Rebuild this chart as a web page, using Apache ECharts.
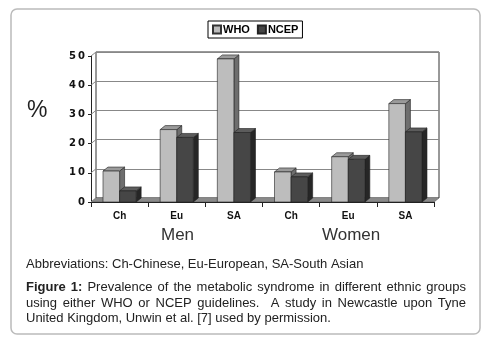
<!DOCTYPE html>
<html>
<head>
<meta charset="utf-8">
<script src="https://cdn.jsdelivr.net/npm/echarts@6/dist/echarts.min.js"></script>
<style>
html,body{margin:0;padding:0;background:#fff;}
#chart{width:488px;height:337px;}
</style>
</head>
<body>
<div id="chart"></div>
<script>
// categories / data
var categories = ['Ch', 'Eu', 'SA', 'Ch', 'Eu', 'SA'];
var groups = ['Men', 'Women'];
var whoValues = [10.6, 24.8, 49, 10.3, 15.5, 33.7];
var ncepValues = [3.8, 22.1, 23.8, 8.6, 14.6, 24];
var yTicks = [0, 10, 20, 30, 40, 50];

var chart = echarts.init(document.getElementById('chart'));

// depth of the 3d effect
var DX = 5, DY = -4;

function toData(arr) {
    return arr.map(function (v, i) { return [i, v]; });
}

function bar3d(side, faces) {
    return function (params, api) {
        var idx = api.value(0), val = api.value(1);
        var top = api.coord([idx, val]);
        var base = api.coord([idx, 0]);
        var bw = api.size([1, 0])[0] * 0.29;
        var x0 = side < 0 ? top[0] - bw : top[0];
        var x1 = x0 + bw;
        var y0 = top[1], yb = base[1];
        var stroke = {stroke: '#222', lineWidth: 0.6};
        return {
            type: 'group',
            children: [{
                type: 'polygon',
                shape: {points: [[x1, y0], [x1 + DX, y0 + DY], [x1 + DX, yb + DY], [x1, yb]]},
                style: Object.assign({fill: faces.side}, stroke)
            }, {
                type: 'polygon',
                shape: {points: [[x0, y0], [x0 + DX, y0 + DY], [x1 + DX, y0 + DY], [x1, y0]]},
                style: Object.assign({fill: faces.top}, stroke)
            }, {
                type: 'rect',
                shape: {x: x0, y: y0, width: bw, height: yb - y0},
                style: Object.assign({fill: faces.front}, stroke)
            }]
        };
    };
}

// connectors between y axis ticks and back wall lines
function connector(params, api) {
    var p = api.coord([0, api.value(0)]);
    var x = 91;
    return {
        type: 'line',
        shape: {x1: x, y1: p[1], x2: x + DX, y2: p[1] + DY},
        style: {stroke: '#888', lineWidth: 1}
    };
}

// justified caption, measured with canvas
var ctx = document.createElement('canvas').getContext('2d');
var FONT = '13px "Liberation Sans", Arial, sans-serif';
var BFONT = 'bold 13px "Liberation Sans", Arial, sans-serif';
function captionLine(words, y, left, right, justify) {
    var widths = words.map(function (w) {
        ctx.font = w.b ? BFONT : FONT;
        return ctx.measureText(w.t).width;
    });
    var total = widths.reduce(function (a, b) { return a + b; }, 0);
    ctx.font = FONT;
    var gap = justify ? (right - left - total) / (words.length - 1) : ctx.measureText(' ').width;
    var x = left, out = [];
    words.forEach(function (w, i) {
        out.push({
            type: 'text', left: x, top: y,
            style: {text: w.t, font: w.b ? BFONT : FONT, fill: '#222'}
        });
        x += widths[i] + gap;
    });
    return out;
}
function words(str, boldCount) {
    return str.split(' ').map(function (t, i) { return {t: t, b: i < (boldCount || 0)}; });
}

var graphics = [{
    type: 'rect',
    shape: {x: 11, y: 9, width: 469, height: 325, r: 6},
    style: {fill: 'none', stroke: '#bbb', lineWidth: 1.5},
    z: -1
}, {
    type: 'polygon',
    shape: {points: [[91, 202], [96, 198], [439, 198], [434, 202]]},
    style: {fill: '#8a8a8a', stroke: '#555', lineWidth: 0.6}
}, {
    type: 'text', left: 27, top: 99,
    style: {text: '%', font: '23px "Liberation Sans", Arial, sans-serif', fill: '#222'}
}, {
    type: 'text', left: 161, top: 227,
    style: {text: groups[0], font: '17px "Liberation Sans", Arial, sans-serif', fill: '#333'}
}, {
    type: 'text', left: 322, top: 227,
    style: {text: groups[1], font: '17px "Liberation Sans", Arial, sans-serif', fill: '#333'}
}, {
    type: 'text', left: 26, top: 258,
    style: {text: 'Abbreviations: Ch-Chinese, Eu-European, SA-South Asian', font: FONT, fill: '#222'}
}];
graphics = graphics
    .concat(captionLine(words('Figure 1: Prevalence of the metabolic syndrome in different ethnic groups', 2), 281, 26, 466, true))
    .concat(captionLine(words('using either WHO or NCEP guidelines.  A study in Newcastle upon Tyne'), 297, 26, 466, true))
    .concat(captionLine(words('United Kingdom, Unwin et al. [7] used by permission.'), 312, 26, 466, false));

var option = {
    animation: false,
    legend: {
        data: [{name: 'WHO', icon: 'rect'}, {name: 'NCEP', icon: 'rect'}],
        left: 208, top: 21,
        itemWidth: 8, itemHeight: 8, itemGap: 7,
        borderColor: '#000', borderWidth: 1,
        padding: [3, 4, 3, 4],
        textStyle: {fontFamily: 'Liberation Sans, Arial', fontWeight: 'bold', fontSize: 11, color: '#000', padding: [0, 0, 0, -3]}
    },
    grid: [
        {left: 96, right: 49, top: 52, bottom: 139, show: true, borderColor: '#333', borderWidth: 1},
        {left: 91, right: 54, top: 56, bottom: 135}
    ],
    xAxis: [{
        gridIndex: 0, type: 'category', data: categories, show: false
    }, {
        gridIndex: 1, type: 'category', data: categories,
        axisLine: {lineStyle: {color: '#222'}},
        axisTick: {show: true, interval: 0, length: 5, lineStyle: {color: '#222'}},
        axisLabel: {interval: 0, margin: 9, fontFamily: 'Liberation Sans, Arial', fontWeight: 'bold', fontSize: 10, color: '#111'}
    }],
    yAxis: [{
        gridIndex: 0, type: 'value', min: 0, max: 50, interval: 10,
        axisLabel: {show: false}, axisTick: {show: false}, axisLine: {show: false},
        splitLine: {lineStyle: {color: '#888', width: 1}}
    }, {
        gridIndex: 1, type: 'value', min: 0, max: 50, interval: 10,
        axisLine: {show: true, lineStyle: {color: '#222'}},
        axisTick: {show: true, length: 3, lineStyle: {color: '#222'}},
        axisLabel: {margin: 6, fontFamily: 'DejaVu Sans', fontWeight: 'bold', fontSize: 10, color: '#111',
            formatter: function (v) { return String(v).split('').join('\u2009'); }},
        splitLine: {show: false}
    }],
    series: [{
        type: 'custom', xAxisIndex: 1, yAxisIndex: 1,
        data: yTicks.map(function (v) { return [v]; }),
        renderItem: connector, silent: true, z: 1
    }, {
        name: 'WHO', type: 'custom', xAxisIndex: 1, yAxisIndex: 1,
        itemStyle: {color: '#bcbcbc', borderColor: '#333', borderWidth: 0.6},
        data: toData(whoValues),
        renderItem: bar3d(-1, {front: '#bdbdbd', top: '#9a9a9a', side: '#6e6e6e'})
    }, {
        name: 'NCEP', type: 'custom', xAxisIndex: 1, yAxisIndex: 1,
        itemStyle: {color: '#454545', borderColor: '#222', borderWidth: 0.6},
        data: toData(ncepValues),
        renderItem: bar3d(1, {front: '#464646', top: '#5c5c5c', side: '#262626'})
    }],
    graphic: graphics
};

chart.setOption(option);
</script>
</body>
</html>
